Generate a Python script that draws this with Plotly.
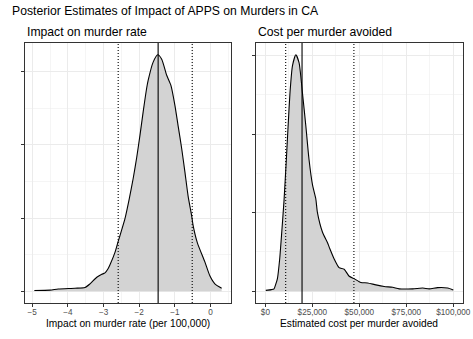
import plotly.graph_objects as go

W, H = 473, 339

# ---- data ----
rate_x = [-4.94, -4.50, -4.27, -3.80, -3.52, -3.38, -3.19, -3.05, -2.96, -2.87, -2.82, -2.68,
          -2.59, -2.49, -2.40, -2.28, -2.17, -2.07, -1.98, -1.89, -1.79, -1.75, -1.61, -1.48,
          -1.37, -1.23, -1.11, -1.00, -0.91, -0.81, -0.72, -0.63, -0.53, -0.49, -0.37, -0.16,
          -0.02, 0.12, 0.31]
rate_y = [0.01, 0.015, 0.03, 0.04, 0.05, 0.10, 0.19, 0.23, 0.25, 0.31, 0.36, 0.53,
          0.68, 0.84, 0.99, 1.26, 1.54, 1.83, 2.13, 2.45, 2.78, 2.88, 3.13, 3.23,
          3.17, 2.95, 2.81, 2.54, 2.26, 1.95, 1.63, 1.30, 1.03, 0.90, 0.66, 0.40,
          0.21, 0.10, 0.04]
rate_median = -1.47
rate_ci = [-2.59, -0.515]

cost_x = [200, 3200, 4600, 5400, 6400, 7600, 8700, 9900, 11200, 12100, 13100, 14400, 16200,
          17900, 19700, 21500, 23200, 25100, 26800, 27700, 30400, 33000, 34300, 36600, 39200,
          41900, 44600, 47200, 50800, 54400, 58800, 63200, 67700, 71200, 78400, 83700, 87200,
          91700, 97000, 100000]
cost_y = [0.01, 0.02, 0.03, 0.08, 0.16, 0.41, 0.75, 1.15, 1.70, 2.11, 2.53, 2.87, 3.01,
          2.91, 2.53, 2.11, 1.68, 1.35, 1.18, 1.00, 0.75, 0.62, 0.54, 0.41, 0.30,
          0.28, 0.19, 0.16, 0.11, 0.105, 0.08, 0.06, 0.05, 0.03, 0.03, 0.04, 0.03,
          0.045, 0.04, 0.015]
cost_median = 19500
cost_ci = [10800, 47100]

rate_ticks = [-5, -4, -3, -2, -1, 0]
rate_labels = ["\u22125", "\u22124", "\u22123", "\u22122", "\u22121", "0"]
cost_ticks = [0, 25000, 50000, 75000, 100000]
cost_labels = ["$0", "$25,000", "$50,000", "$75,000", "$100,000"]
y_ticks = [0, 1, 2, 3]

title = "Posterior Estimates of Impact of APPS on Murders in CA"
sub1 = "Impact on murder rate"
sub2 = "Cost per murder avoided"
xt1 = "Impact on murder rate (per 100,000)"
xt2 = "Estimated cost per murder avoided"

FONT = "Liberation Sans, Arial, Helvetica, sans-serif"
GRID = "#ebebeb"
BORDER = "#333333"
FILL = "#d3d3d3"


def px_x(p):
    return p / W


def px_y(p):
    return 1 - p / H


def expand(vals):
    lo, hi = min(vals), max(vals)
    d = (hi - lo) * 0.05
    return [lo - d, hi + d]


fig = go.Figure()
fig.add_trace(go.Scatter(x=rate_x, y=rate_y, mode="lines", fill="tozeroy",
                         fillcolor=FILL, line=dict(color="black", width=1.1, shape="spline", smoothing=0.6),
                         xaxis="x", yaxis="y", hoverinfo="skip", showlegend=False))
fig.add_trace(go.Scatter(x=cost_x, y=cost_y, mode="lines", fill="tozeroy",
                         fillcolor=FILL, line=dict(color="black", width=1.1, shape="spline", smoothing=0.6),
                         xaxis="x2", yaxis="y2", hoverinfo="skip", showlegend=False))

shapes = []
for xv, dash, ax in [(rate_median, "solid", "x"), (rate_ci[0], "1px,2px", "x"), (rate_ci[1], "1px,2px", "x"),
                     (cost_median, "solid", "x2"), (cost_ci[0], "1px,2px", "x2"), (cost_ci[1], "1px,2px", "x2")]:
    yref = "y domain" if ax == "x" else "y2 domain"
    shapes.append(dict(type="line", xref=ax, yref=yref, x0=xv, x1=xv, y0=0, y1=1,
                       line=dict(color="black", width=1.1, dash=dash), layer="above"))

common_axis = dict(showline=True, mirror=True, linecolor=BORDER, linewidth=1,
                   ticks="outside", ticklen=3, tickcolor=BORDER, tickwidth=1,
                   showgrid=True, gridcolor=GRID, gridwidth=1, zeroline=False,
                   automargin=False,
                   tickfont=dict(family=FONT, size=8.2, color="#4d4d4d"))

dom1 = [px_x(25), px_x(231)]
dom2 = [px_x(256), px_x(462.7)]
ydom = [px_y(303), px_y(43)]

fig.update_layout(
    template="none",
    width=W, height=H, margin=dict(l=0, r=0, t=0, b=0, pad=0),
    paper_bgcolor="white", plot_bgcolor="white", showlegend=False,
    xaxis=dict(domain=dom1, range=expand(rate_x), tickvals=rate_ticks, ticktext=rate_labels,
               ticklabelstandoff=-2,
               minor=dict(dtick=0.5, tick0=-4.5, showgrid=True, gridcolor=GRID, gridwidth=0.5, ticks=""),
               anchor="y", **common_axis),
    yaxis=dict(domain=ydom, range=expand([0] + rate_y), tickvals=y_ticks, ticktext=["", "", "", ""],
               minor=dict(dtick=1, tick0=0.5, showgrid=True, gridcolor=GRID, gridwidth=0.5, ticks=""),
               anchor="x", **common_axis),
    xaxis2=dict(domain=dom2, range=expand([0] + cost_x), tickvals=cost_ticks, ticktext=cost_labels,
                ticklabelstandoff=-2,
                minor=dict(dtick=25000, tick0=12500, showgrid=True, gridcolor=GRID, gridwidth=0.5, ticks=""),
                anchor="y2", **common_axis),
    yaxis2=dict(domain=ydom, range=expand([0] + cost_y), tickvals=y_ticks, ticktext=["", "", "", ""],
                minor=dict(dtick=1, tick0=0.5, showgrid=True, gridcolor=GRID, gridwidth=0.5, ticks=""),
                anchor="x2", **common_axis),
    shapes=shapes,
)

ann = [
    dict(text=title, x=px_x(11), y=px_y(11), xanchor="left", yanchor="middle",
         font=dict(family=FONT, size=12.2, color="black")),
    dict(text=sub1, x=px_x(25.5), y=px_y(32), xanchor="left", yanchor="middle",
         font=dict(family=FONT, size=12.2, color="black")),
    dict(text=sub2, x=px_x(256.5), y=px_y(32), xanchor="left", yanchor="middle",
         font=dict(family=FONT, size=12.2, color="black")),
    dict(text=xt1, x=px_x(128), y=px_y(323.5), xanchor="center", yanchor="middle",
         font=dict(family=FONT, size=10.2, color="black")),
    dict(text=xt2, x=px_x(359.4), y=px_y(323.5), xanchor="center", yanchor="middle",
         font=dict(family=FONT, size=10.2, color="black")),
]
for a in ann:
    a.update(xref="paper", yref="paper", showarrow=False, borderpad=0)
fig.update_layout(annotations=ann)

fig.write_html("out.html", config={"displayModeBar": False, "staticPlot": True},
               post_script="document.body.style.margin='0';document.body.style.padding='0';")
